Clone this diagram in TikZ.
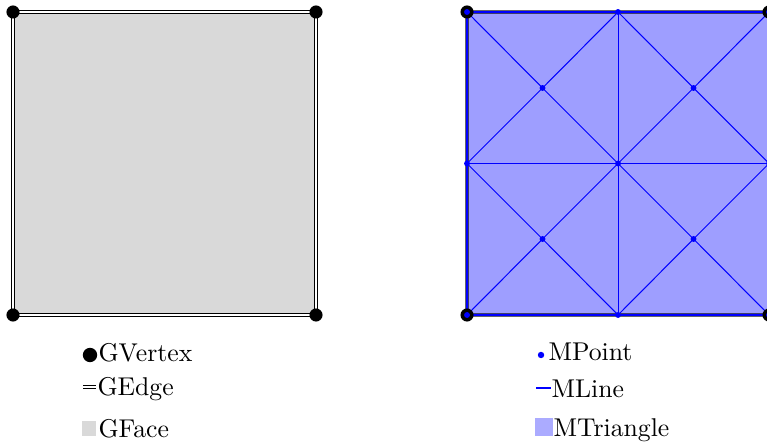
\documentclass[tikz,border=0pt]{standalone}
\begin{document}
\begin{tikzpicture}[x=0.389pt,y=-0.389pt,
  gedge/.style={draw=black,double=white,line width=0.42pt,double distance=0.8pt},
  gvertex/.style={circle,fill=black,inner sep=0pt,minimum size=5.1pt},
  gface/.style={fill=black!15},
  mline/.style={draw=blue,line width=0.4pt},
  mpoint/.style={circle,fill=blue,inner sep=0pt,minimum size=2.3pt},
  mtri/.style={fill=blue,fill opacity=0.38},
  lbl/.style={anchor=base west,inner sep=0pt}]
\useasboundingbox (0,0) rectangle (767,444);
% ---------- left: geometry ----------
\coordinate (A) at (13,12);
\coordinate (B) at (316,12);
\coordinate (C) at (316,315);
\coordinate (D) at (13,315);
\fill[gface] (A) -- (B) -- (C) -- (D) -- cycle;
\draw[gedge] (A) -- (B);
\draw[gedge] (B) -- (C);
\draw[gedge] (C) -- (D);
\draw[gedge] (D) -- (A);
\foreach \p in {A,B,C,D} \node[gvertex] (v\p) at (\p) {};
% ---------- right: mesh ----------
\coordinate (P1) at (467,12);
\coordinate (P2) at (618,12);
\coordinate (P3) at (769,12);
\coordinate (P4) at (467,163.5);
\coordinate (P5) at (618,163.5);
\coordinate (P6) at (769,163.5);
\coordinate (P7) at (467,315);
\coordinate (P8) at (618,315);
\coordinate (P9) at (769,315);
\coordinate (Q1) at (542.5,88);
\coordinate (Q2) at (693.5,88);
\coordinate (Q3) at (542.5,239);
\coordinate (Q4) at (693.5,239);
\foreach \q/\a/\b/\c/\d in {Q1/P1/P2/P5/P4, Q2/P2/P3/P6/P5, Q3/P4/P5/P8/P7, Q4/P5/P6/P9/P8}{
  \fill[mtri] (\q) -- (\a) -- (\b) -- cycle;
  \fill[mtri] (\q) -- (\b) -- (\c) -- cycle;
  \fill[mtri] (\q) -- (\c) -- (\d) -- cycle;
  \fill[mtri] (\q) -- (\d) -- (\a) -- cycle;
}
\draw[gedge,draw opacity=0.6] (P1) -- (P3);
\draw[gedge,draw opacity=0.6] (P3) -- (P9);
\draw[gedge,draw opacity=0.6] (P9) -- (P7);
\draw[gedge,draw opacity=0.6] (P7) -- (P1);
\foreach \a/\b in {P1/P2,P2/P3,P4/P5,P5/P6,P7/P8,P8/P9,P1/P4,P4/P7,P2/P5,P5/P8,P3/P6,P6/P9,
  Q1/P1,Q1/P2,Q1/P5,Q1/P4,Q2/P2,Q2/P3,Q2/P6,Q2/P5,Q3/P4,Q3/P5,Q3/P8,Q3/P7,Q4/P5,Q4/P6,Q4/P9,Q4/P8}
  \draw[mline] (\a) -- (\b);
\foreach \p in {P1,P3,P7,P9} \node[gvertex] (g\p) at (\p) {};
\foreach \p in {P1,P2,P3,P4,P5,P6,P7,P8,P9,Q1,Q2,Q3,Q4} \node[mpoint] (m\p) at (\p) {};
% ---------- legend left ----------
\node[circle,fill=black,inner sep=0pt,minimum size=5.6pt] (lv) at (90,355) {};
\node[lbl] (tv) at (98,362) {GVertex};
\coordinate (le1) at (83,387);
\coordinate (le2) at (96,387);
\draw[draw=black,double=white,line width=0.35pt,double distance=0.7pt] (le1) -- (le2);
\node[lbl] (te) at (97,395) {GEdge};
\node[gface,minimum width=5.8pt,minimum height=6.2pt,inner sep=0pt,anchor=south west] (lf) at (81,437) {};
\node[lbl] (tf) at (98,437) {GFace};
% ---------- legend right ----------
\node[mpoint,minimum size=2.5pt] (lp) at (541,355) {};
\node[lbl] (tp) at (548,361) {MPoint};
\coordinate (ll1) at (536,388);
\coordinate (ll2) at (551,388);
\draw[mline] (ll1) -- (ll2);
\node[lbl] (tl) at (551,397) {MLine};
\node[fill=blue!33,minimum width=7pt,minimum height=7pt,inner sep=0pt,anchor=south west] (lt) at (534,437) {};
\node[lbl] (tt) at (553,436) {MTriangle};
\end{tikzpicture}
\end{document}
